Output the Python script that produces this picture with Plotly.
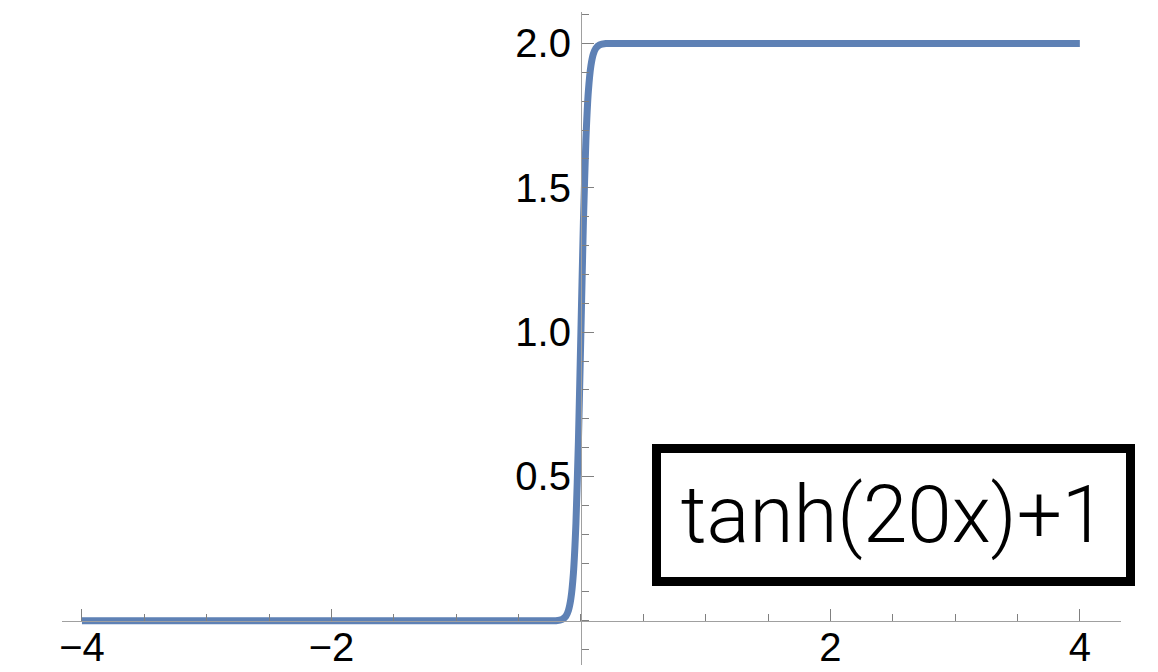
import plotly.graph_objects as go

# Curve samples of tanh(20x)+1 over [-4, 4]
x_vals = [-4.0, -0.3, -0.2, -0.15, -0.12, -0.1, -0.08, -0.06, -0.04, -0.02, 0.0,
          0.02, 0.04, 0.06, 0.08, 0.1, 0.12, 0.15, 0.2, 0.3, 4.0]
y_vals = [0.0, 0.0, 0.0004, 0.005, 0.0165, 0.036, 0.078, 0.165, 0.336, 0.62, 1.0,
          1.38, 1.664, 1.835, 1.922, 1.964, 1.9835, 1.995, 1.9996, 2.0, 2.0]

x_ticks = [-4, -2, 2, 4]
y_ticks = [0.5, 1.0, 1.5, 2.0]
label_text = "tanh(20x)+1"

X_RANGE = [-4.16, 4.33]
Y_RANGE = [-0.153, 2.109]

AXIS_GRAY = "#a0a0a0"
TICK_GRAY = "#808080"

fig = go.Figure()
fig.add_trace(go.Scatter(
    x=x_vals, y=y_vals, mode="lines",
    line=dict(color="#5E81B5", width=7, shape="spline", smoothing=0.5),
    hoverinfo="skip", showlegend=False,
))

# axes cross at the origin
x_zero_frac = (0 - Y_RANGE[0]) / (Y_RANGE[1] - Y_RANGE[0])
y_zero_frac = (0 - X_RANGE[0]) / (X_RANGE[1] - X_RANGE[0])

tick_font = dict(family="Liberation Sans, Arial, sans-serif", size=40, color="black")

fig.update_xaxes(
    range=X_RANGE, anchor="free", position=x_zero_frac, automargin=False,
    showgrid=False, zeroline=False,
    showline=True, linecolor=AXIS_GRAY, linewidth=1,
    tickmode="array", tickvals=x_ticks,
    ticks="inside", ticklen=12, tickwidth=1, tickcolor=TICK_GRAY,
    tickfont=tick_font, ticklabelstandoff=-9,
    minor=dict(dtick=0.5, tick0=0, ticks="inside", ticklen=7, tickwidth=1, tickcolor=TICK_GRAY, showgrid=False),
)
fig.update_yaxes(
    range=Y_RANGE, anchor="free", position=y_zero_frac, automargin=False,
    showgrid=False, zeroline=False,
    showline=True, linecolor=AXIS_GRAY, linewidth=1,
    tickmode="array", tickvals=y_ticks, tickformat=".1f",
    ticks="inside", ticklen=12, tickwidth=1, tickcolor=TICK_GRAY,
    tickfont=tick_font, ticklabelstandoff=2,
    minor=dict(dtick=0.1, tick0=0, ticks="inside", ticklen=7, tickwidth=1, tickcolor=TICK_GRAY, showgrid=False),
)

fig.add_annotation(
    x=2.505, y=0.366, xref="x", yref="y",
    text=label_text, showarrow=False,
    font=dict(family="Roboto, Liberation Sans, sans-serif", size=80, color="black", weight=300),
    bordercolor="black", borderwidth=9, borderpad=0,
    width=465, height=124, bgcolor="white",
    align="center", valign="middle",
)

fig.update_layout(
    width=1158, height=672,
    margin=dict(l=62, r=37, t=12, b=7),
    paper_bgcolor="white", plot_bgcolor="white",
)

fig.write_html("out.html")
